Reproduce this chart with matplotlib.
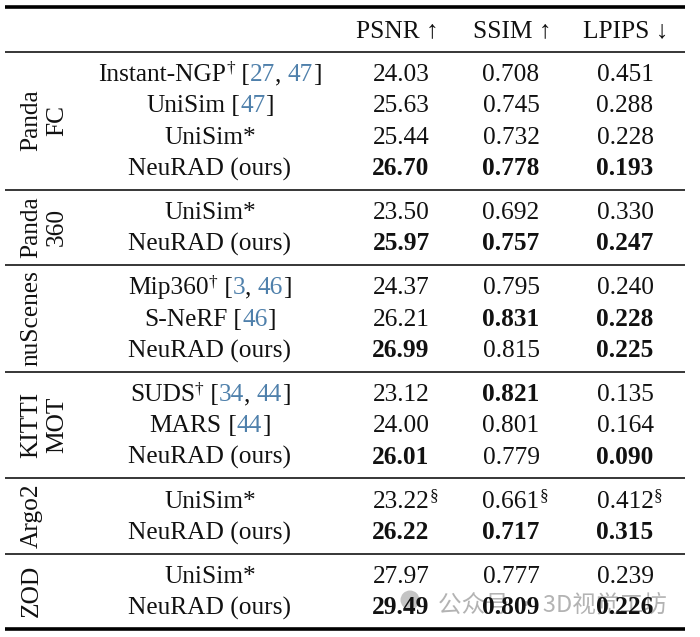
import matplotlib
matplotlib.use("Agg")
import matplotlib.pyplot as plt
from matplotlib.font_manager import FontProperties
from matplotlib.patches import Circle

# ---------------- data ----------------
groups = ["Panda\nFC", "Panda\n360", "nuScenes", "KITTI\nMOT", "Argo2", "ZOD"]
group_sizes = [4, 2, 3, 3, 2, 2]
headers = ["PSNR \u2191", "SSIM \u2191", "LPIPS \u2193"]

methods = ["Instant-NGP", "UniSim", "UniSim*", "NeuRAD (ours)",
           "UniSim*", "NeuRAD (ours)",
           "Mip360", "S-NeRF", "NeuRAD (ours)",
           "SUDS", "MARS", "NeuRAD (ours)",
           "UniSim*", "NeuRAD (ours)",
           "UniSim*", "NeuRAD (ours)"]
dagger = [1, 0, 0, 0, 0, 0, 1, 0, 0, 1, 0, 0, 0, 0, 0, 0]
refs = [["27", "47"], ["47"], [], [],
        [], [],
        ["3", "46"], ["46"], [],
        ["34", "44"], ["44"], [],
        [], [],
        [], []]

psnr = [24.03, 25.63, 25.44, 26.70, 23.50, 25.97, 24.37, 26.21, 26.99,
        23.12, 24.00, 26.01, 23.22, 26.22, 27.97, 29.49]
ssim = [0.708, 0.745, 0.732, 0.778, 0.692, 0.757, 0.795, 0.831, 0.815,
        0.821, 0.801, 0.779, 0.661, 0.717, 0.777, 0.809]
lpips = [0.451, 0.288, 0.228, 0.193, 0.330, 0.247, 0.240, 0.228, 0.225,
         0.135, 0.164, 0.090, 0.412, 0.315, 0.239, 0.226]
bold_psnr = [0, 0, 0, 1, 0, 1, 0, 0, 1, 0, 0, 1, 0, 1, 0, 1]
bold_ssim = [0, 0, 0, 1, 0, 1, 0, 1, 0, 1, 0, 0, 0, 1, 0, 1]
bold_lpips = [0, 0, 0, 1, 0, 1, 0, 1, 1, 0, 0, 1, 0, 1, 0, 1]
section_mark = [0, 0, 0, 0, 0, 0, 0, 0, 0, 0, 0, 0, 1, 0, 0, 0]

watermark = "公众号 · 3D视觉工坊"

# ---------------- layout ----------------
W, H = 700, 637
fig = plt.figure(figsize=(7.0, 6.37), dpi=100)
ax = fig.add_axes([0, 0, 1, 1])
ax.set_xlim(0, W)
ax.set_ylim(H, 0)
ax.axis("off")
renderer = fig.canvas.get_renderer()

SERIF = ["Liberation Serif", "DejaVu Serif"]
FS = 18.3
SUP_FS = 12.5
TXT = "#111111"
CITE = "#4f80ab"

X_LEFT, X_RIGHT = 5, 685
X_METHOD = 210
X_COLS = [401, 511, 625]
X_HEAD = [397, 512, 626]
ROW_H = 31.4
PAD_TOP, PAD_BOT = 5.5, 7.0
Y_TOP, Y_HEAD_LINE = 6.5, 51.5
BASE_OFF = 8.3


def width(s, size, weight="normal"):
    p = FontProperties(family=SERIF, size=size, weight=weight)
    w1, _, _ = renderer.get_text_width_height_descent("|" + s + "|", p, ismath=False)
    w0, _, _ = renderer.get_text_width_height_descent("||", p, ismath=False)
    return w1 - w0


def draw_segments(segs, xc, yb):
    ws = [width(s, sz, wt) for s, c, sz, wt, dy in segs]
    x = xc - sum(ws) / 2.0
    for (s, c, sz, wt, dy), w in zip(segs, ws):
        ax.text(x, yb - dy, s, color=c, fontsize=sz, fontweight=wt,
                family=SERIF, ha="left", va="baseline", zorder=3)
        x += w


# rules
ax.hlines(Y_TOP, X_LEFT, X_RIGHT, color="black", lw=2.6, zorder=2)
ax.hlines(Y_HEAD_LINE, X_LEFT, X_RIGHT, color="black", lw=1.1, zorder=2)

# headers
for xh, h in zip(X_HEAD, headers):
    ax.text(xh, 29 + BASE_OFF, h, fontsize=FS, family=SERIF, color=TXT,
            ha="center", va="baseline")

row = 0
y0 = Y_HEAD_LINE
for gi, (g, n) in enumerate(zip(groups, group_sizes)):
    gh = PAD_TOP + PAD_BOT + n * ROW_H
    y1 = y0 + gh
    last = gi == len(groups) - 1
    ax.hlines(y1, X_LEFT, X_RIGHT, color="black", lw=2.6 if last else 1.1, zorder=2)

    # rotated group label
    yc = (y0 + y1) / 2.0
    for li, line in enumerate(g.split("\n")):
        ax.text(37.5 + li * 25.5, yc, line, rotation=90, rotation_mode="anchor",
                ha="center", va="baseline", fontsize=FS, family=SERIF, color=TXT)

    for i in range(n):
        yr = y0 + PAD_TOP + (i + 0.5) * ROW_H
        yb = yr + BASE_OFF
        segs = [(methods[row], TXT, FS, "normal", 0)]
        if dagger[row]:
            segs.append(("\u2020", TXT, SUP_FS, "normal", 8))
        if refs[row]:
            segs.append((" [", TXT, FS, "normal", 0))
            for k, r in enumerate(refs[row]):
                if k > 0:
                    segs.append((", ", TXT, FS, "normal", 0))
                segs.append((r, CITE, FS, "normal", 0))
            segs.append(("]", TXT, FS, "normal", 0))
        draw_segments(segs, X_METHOD, yb)

        vals = [f"{psnr[row]:.2f}", f"{ssim[row]:.3f}", f"{lpips[row]:.3f}"]
        bolds = [bold_psnr[row], bold_ssim[row], bold_lpips[row]]
        for xc, v, b in zip(X_COLS, vals, bolds):
            wt = "bold" if b else "normal"
            ax.text(xc, yb, v, fontsize=FS, fontweight=wt, family=SERIF,
                    color=TXT, ha="center", va="baseline", zorder=3)
            if section_mark[row]:
                wv = width(v, FS, wt)
                ax.text(xc + wv / 2.0, yb - 8, "\u00a7", fontsize=SUP_FS,
                        family=SERIF, color=TXT, ha="left", va="baseline", zorder=3)
        row += 1
    y0 = y1

# watermark
ax.add_patch(Circle((410, 600), 9.5, color="#c4c4c4", zorder=1, lw=0))
ax.text(438, 611, watermark, fontsize=17, color="#b3b3b3",
        family=["Noto Sans CJK SC", "DejaVu Sans"], ha="left", va="baseline", zorder=1)

fig.savefig("out.png", dpi=100, facecolor="white")
